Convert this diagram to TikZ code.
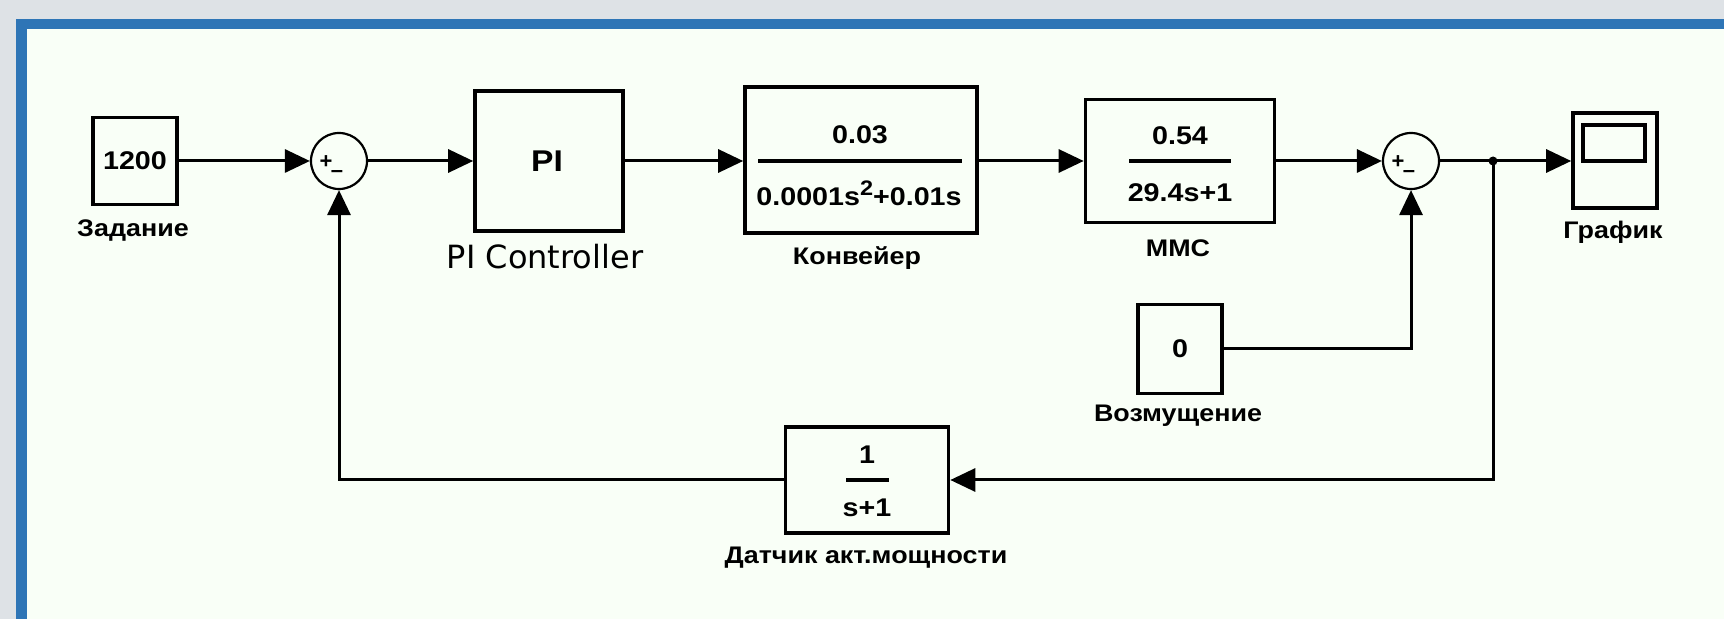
\documentclass[tikz,border=0pt]{standalone}
\usepackage{fontspec}
\setmainfont{Liberation Sans}
\newfontfamily\simfont[FakeStretch=1.12]{Liberation Sans}
\newfontfamily\tahfont{DejaVu Sans}
\usetikzlibrary{arrows.meta}
\definecolor{bggray}{RGB}{222,226,230}
\definecolor{frameblue}{RGB}{46,117,182}
\definecolor{paper}{RGB}{249,255,247}
\begin{document}
\begin{tikzpicture}[x=0.5pt,y=-0.5pt,
  blk/.style={draw,line width=1.8pt,inner sep=0pt},
  wire/.style={line width=1.5pt},
  sig/.style={wire,-{Triangle[length=12.5pt,width=11.5pt]}},
  val/.style={font=\simfont\bfseries\fontsize{12.8}{14}\selectfont,inner sep=0pt},
  lbl/.style={font=\simfont\bfseries\fontsize{12}{14}\selectfont,inner sep=0pt},
  sumc/.style={circle,draw,line width=1.1pt,minimum size=28pt,inner sep=0pt},
  sgn/.style={font=\bfseries\fontsize{11}{12}\selectfont,inner sep=0pt},
  fracbar/.style={line width=1.6pt}
]
\useasboundingbox (0,0) rectangle (1724,619);
\fill[bggray] (0,0) rectangle (1724,619);
\fill[frameblue] (16,19) rectangle (1724,619);
\fill[paper] (27,29) rectangle (1724,619);

% source
\node[blk,minimum width=42pt,minimum height=43.5pt] (src) at (135,161) {};
\node[val] (srcv) at (src) {1200};
\node[lbl] (srcl) at (133,231) {Задание};

% sum 1
\node[sumc] (sum1) at (339,161) {};
\node[sgn] (sum1p) at (326,162) {+};
\node[sgn] (sum1m) at (337,174) {--};

% PI
\node[blk,minimum width=74pt,minimum height=70pt] (pi) at (549,161) {};
\node[val,font=\simfont\bfseries\fontsize{15}{17}\selectfont] (piv) at (547,161) {PI};
\node[font=\tahfont\fontsize{16}{19}\selectfont,inner sep=0pt] (pil) at (545,257) {PI Controller};

% conveyor
\node[blk,minimum width=116pt,minimum height=73pt] (conv) at (861,160) {};
\node[val] (convn) at (860,135) {0.03};
\node[val] (convd) at (859,193) {0.0001s\raisebox{0.4em}{\fontsize{10.5}{11}\selectfont 2}+0.01s};
\draw[fracbar] (758,161) -- (962,161);
\node[lbl] (convl) at (857,258) {Конвейер};

% MMC
\node[blk,minimum width=94.5pt,minimum height=61.5pt] (mmc) at (1180,161) {};
\node[val] (mmcn) at (1180,136) {0.54};
\node[val] (mmcd) at (1180,193) {29.4s+1};
\draw[fracbar] (1129,161) -- (1231,161);
\node[lbl] (mmcl) at (1178,248) {ММС};

% sum 2
\node[sumc] (sum2) at (1411,161) {};
\node[sgn] (sum2p) at (1398,162) {+};
\node[sgn] (sum2m) at (1409,174) {--};

% junction
\node[circle,fill,inner sep=0pt,minimum size=4.5pt] (jn) at (1493,161) {};

% scope
\node[blk,minimum width=42pt,minimum height=47.5pt] (scope) at (1615,160.5) {};
\node[draw,line width=1.6pt,inner sep=0pt,minimum width=31pt,minimum height=18pt] (scopein) at (1614,143) {};
\node[lbl] (scopel) at (1613,232) {График};

% disturbance
\node[blk,minimum width=42pt,minimum height=44.5pt] (dist) at (1180,349) {};
\node[val] (distv) at (dist) {0};
\node[lbl] (distl) at (1178,416) {Возмущение};

% sensor
\node[blk,minimum width=81.5pt,minimum height=53pt] (sens) at (867,480) {};
\node[val] (sensn) at (867,455) {1};
\node[val] (sensd) at (867,508) {s+1};
\draw[fracbar] (846,480) -- (889,480);
\node[lbl] (sensl) at (866,558) {Датчик акт.мощности};

% connectors
\draw[sig] (src.east) -- (sum1.west);
\draw[sig] (sum1.east) -- (pi.west);
\draw[sig] (pi.east) -- (conv.west |- pi.east);
\draw[sig] (conv.east |- mmc.west) -- (mmc.west);
\draw[sig] (mmc.east) -- (sum2.west);
\draw[wire] (sum2.east) -- (jn.center);
\draw[sig] (jn.center) -- (scope.west |- jn.center);
\draw[sig] (jn.center) |- (sens.east);
\draw[sig] (sens.west) -| (sum1.south);
\draw[sig] (dist.east) -| (sum2.south);
\end{tikzpicture}
\end{document}
